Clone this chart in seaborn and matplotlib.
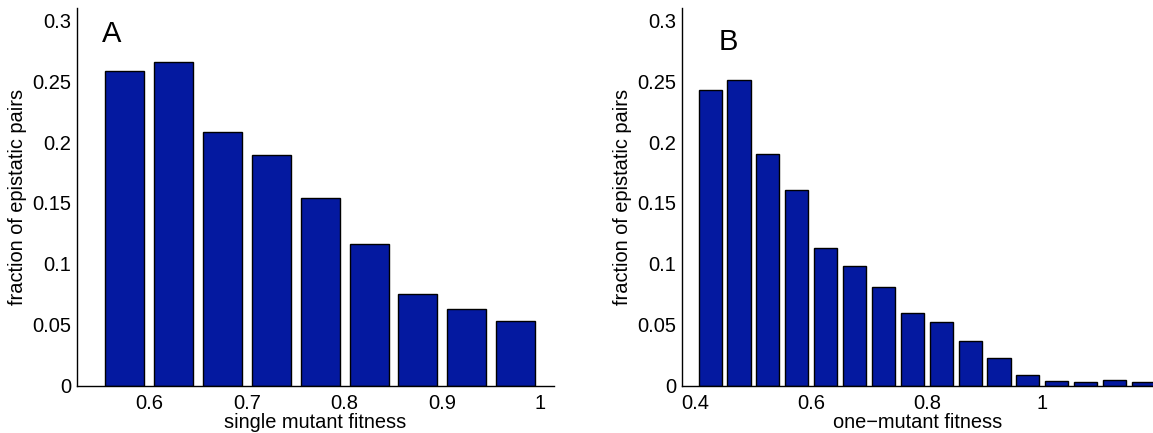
import matplotlib
matplotlib.use("Agg")
import matplotlib.pyplot as plt
import seaborn as sns
import pandas as pd

# Panel A: fraction of epistatic pairs vs single mutant fitness
fitness_a = [0.575, 0.625, 0.675, 0.725, 0.775, 0.825, 0.875, 0.925, 0.975]
fraction_a = [0.258, 0.266, 0.208, 0.189, 0.154, 0.116, 0.075, 0.063, 0.053]

# Panel B: fraction of epistatic pairs vs one-mutant fitness
fitness_b = [0.425, 0.475, 0.525, 0.575, 0.625, 0.675, 0.725, 0.775,
             0.825, 0.875, 0.925, 0.975, 1.025, 1.075, 1.125, 1.175]
fraction_b = [0.243, 0.251, 0.190, 0.161, 0.113, 0.098, 0.081, 0.060,
              0.052, 0.037, 0.023, 0.0085, 0.004, 0.003, 0.0045, 0.003]

yticks = [0, 0.05, 0.1, 0.15, 0.2, 0.25, 0.3]
ytick_labels = ["0", "0.05", "0.1", "0.15", "0.2", "0.25", "0.3"]
xticks_a = [0.6, 0.7, 0.8, 0.9, 1.0]
xtick_labels_a = ["0.6", "0.7", "0.8", "0.9", "1"]
xticks_b = [0.4, 0.6, 0.8, 1.0]
xtick_labels_b = ["0.4", "0.6", "0.8", "1"]

sns.set_theme(style="white")
plt.rcParams["font.family"] = ["Liberation Sans", "DejaVu Sans"]

BAR_COLOR = "#0419a0"
TICK_SIZE = 14.5
LABEL_SIZE = 14.4

fig = plt.figure(figsize=(11.53, 4.33), dpi=100)
ax_a = fig.add_axes([77 / 1153, 1 - 385.7 / 433, (554 - 77) / 1153, (385.7 - 8) / 433])
ax_b = fig.add_axes([681.7 / 1153, 1 - 385.7 / 433, (1153 - 681.7) / 1153, (385.7 - 8) / 433])

panels = [
    (ax_a, fitness_a, fraction_a, (0.526, 1.0143), xticks_a, xtick_labels_a,
     "single mutant fitness", "A", (0.052, 0.909)),
    (ax_b, fitness_b, fraction_b, (0.3758, 1.1916), xticks_b, xtick_labels_b,
     "one\u2212mutant fitness", "B", (0.078, 0.889)),
]

for ax, xs, ys, xlim, xt, xtl, xlabel, letter, letter_pos in panels:
    df = pd.DataFrame({"fitness": xs, "fraction": ys})
    sns.barplot(data=df, x="fitness", y="fraction", native_scale=True,
                color=BAR_COLOR, saturation=1, width=0.8,
                edgecolor="black", linewidth=1.0, ax=ax)
    ax.set_xlim(*xlim)
    ax.set_ylim(0, 0.31)
    ax.set_xticks(xt)
    ax.set_xticklabels(xtl)
    ax.set_yticks(yticks)
    ax.set_yticklabels(ytick_labels)
    ax.tick_params(axis="both", direction="in", length=4, width=0.8,
                   color="black", labelsize=TICK_SIZE, labelcolor="black")
    ax.tick_params(axis="x", pad=6)
    ax.tick_params(axis="y", pad=4)
    ax.set_xlabel(xlabel, fontsize=LABEL_SIZE, color="black", labelpad=0)
    ax.set_ylabel("fraction of epistatic pairs", fontsize=LABEL_SIZE,
                  color="black", labelpad=4)
    for side in ("top", "right"):
        ax.spines[side].set_visible(False)
    for side in ("left", "bottom"):
        ax.spines[side].set_color("black")
        ax.spines[side].set_linewidth(1.0)
    ax.set_facecolor("white")
    ax.text(letter_pos[0], letter_pos[1], letter, transform=ax.transAxes,
            fontsize=21, color="black", ha="left", va="baseline")

fig.savefig("out.png", dpi=100, facecolor="white")
